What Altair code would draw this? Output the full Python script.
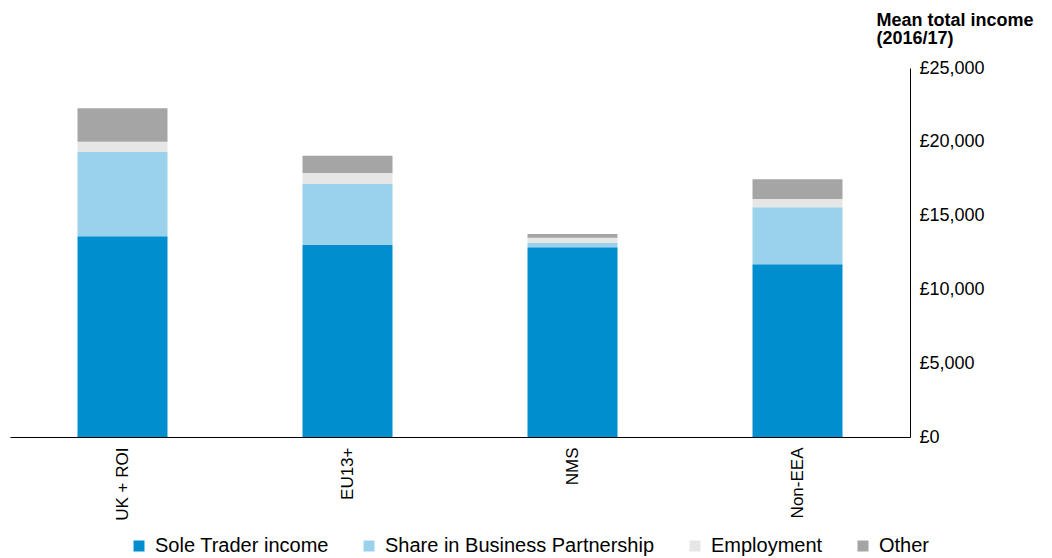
import altair as alt
import pandas as pd

categories = ["UK + ROI", "EU13+", "NMS", "Non-EEA"]
components = ["Sole Trader income", "Share in Business Partnership", "Employment", "Other"]
sole_trader = [13600, 13010, 12850, 11700]
partnership = [5730, 4150, 290, 3860]
employment = [670, 730, 360, 560]
other = [2270, 1170, 250, 1340]
colors = ["#008ECE", "#9AD2EC", "#E6E6E6", "#A5A5A5"]
y_ticks = [0, 5000, 10000, 15000, 20000, 25000]

rows = []
for i, cat in enumerate(categories):
    for j, (comp, series) in enumerate(zip(components, [sole_trader, partnership, employment, other])):
        rows.append({"category": cat, "component": comp, "value": series[i], "idx": j})
df = pd.DataFrame(rows)

FONT = "Liberation Sans"

chart = alt.Chart(df).mark_bar().encode(
    x=alt.X("category:N", sort=categories,
            scale=alt.Scale(paddingInner=0.6, paddingOuter=0.3),
            axis=alt.Axis(title=None, labelAngle=-90, ticks=False, labelPadding=10,
                          labelFont=FONT, labelFontSize=17, labelColor="#000000",
                          domainColor="#000000", domainWidth=1)),
    y=alt.Y("value:Q", stack="zero",
            scale=alt.Scale(domain=[0, 25000], nice=False),
            axis=alt.Axis(orient="right", values=y_ticks, grid=False, ticks=False,
                          labelExpr="'£' + format(datum.value, ',')",
                          labelFont=FONT, labelFontSize=18, labelColor="#000000",
                          labelPadding=9, domainColor="#000000", domainWidth=1,
                          title=["Mean total income", "(2016/17)"],
                          titleAngle=0, titleAlign="left", titleBaseline="top",
                          titleX=-34, titleY=-57, titleFont=FONT, titleFontSize=18,
                          titleFontWeight="bold", titleColor="#000000",
                          titleLineHeight=18)),
    color=alt.Color("component:N", sort=components,
                    scale=alt.Scale(domain=components, range=colors),
                    legend=alt.Legend(title=None, orient="none", direction="horizontal",
                                      legendX=119, legendY=468,
                                      symbolType="square", symbolSize=121,
                                      symbolStrokeWidth=0, labelFont=FONT,
                                      labelFontSize=20, labelColor="#000000",
                                      labelLimit=0, labelOffset=6, columnPadding=30)),
    order=alt.Order("idx:Q", sort="ascending"),
).properties(
    width=900, height=369,
    autosize=alt.AutoSizeParams(type="none"),
    padding={"left": 2, "top": 60, "right": 132, "bottom": 119},
).configure_view(stroke=None)

chart.save("out.html", embed_options={"renderer": "svg", "actions": False})
